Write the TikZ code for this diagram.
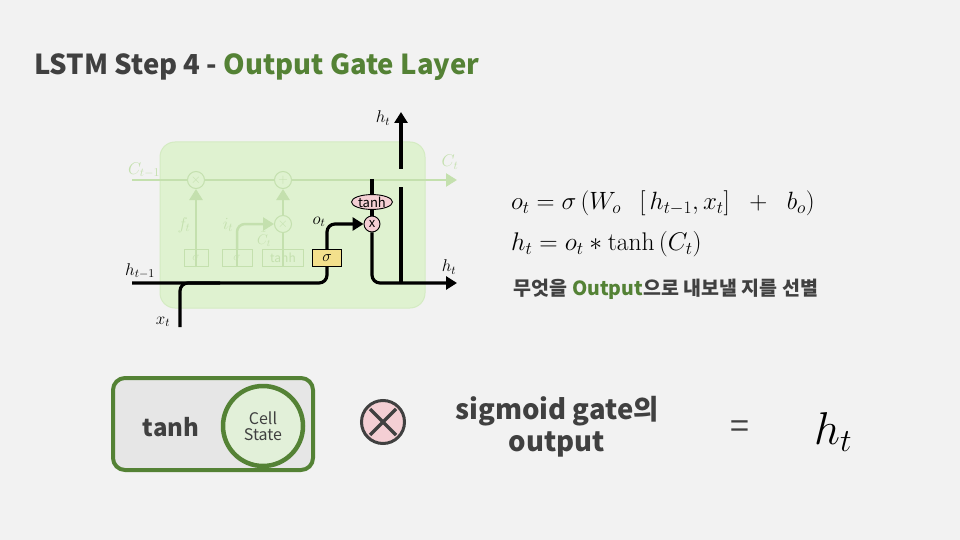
\RequirePackage{fix-cm}
\documentclass[tikz,border=0pt]{standalone}
\usepackage{fontspec}
\usepackage{amsmath}
\newfontfamily\krfont{Noto Sans CJK KR}
\usetikzlibrary{arrows.meta,shapes.geometric,positioning}
\definecolor{bggray}{HTML}{F2F2F2}
\definecolor{txtgray}{HTML}{404040}
\definecolor{ggreen}{HTML}{548235}
\definecolor{cellfill}{HTML}{DFF2D0}
\definecolor{fade}{HTML}{C4E0AE}
\definecolor{pinkfill}{HTML}{F4CFD4}
\definecolor{sigfill}{HTML}{F3E08C}
\definecolor{boxgray}{HTML}{E6E6E6}
\definecolor{csfill}{HTML}{E2F0D9}
\newcommand\fs[1]{\fontsize{#1}{#1}\selectfont}
\tikzset{
  fadeline/.style={draw=fade, line width=2.5pt},
  fadebox/.style={draw=fade, fill=cellfill, line width=1pt, minimum width=24pt,
    minimum height=17pt, inner sep=0pt, text=fade, font=\krfont\fs{12}},
  fadeop/.style={circle, draw=fade, line width=1pt, minimum size=17pt, inner sep=0pt,
    text=fade, font=\fs{13}},
  fadelabel/.style={text=fade, font=\fs{17}, inner sep=0pt},
  mathlabel/.style={font=\fs{17}, inner sep=0pt},
  blkline/.style={draw=black, line width=3.2pt, rounded corners=8pt},
  tip/.style={-{Triangle[length=11pt,width=13pt]}},
  pinkop/.style={draw=black, fill=pinkfill, line width=0.9pt, inner sep=0pt,
    font=\krfont\fs{13}},
}
\begin{document}
\begin{tikzpicture}[x=1pt, y=-1pt]
\fill[bggray] (0,0) rectangle (960,540);
\useasboundingbox (0,0) rectangle (960,540);

% title
\node[anchor=west, inner sep=0pt, text=txtgray, font=\krfont\bfseries\fs{27.5}] (title) at (34,67)
  {LSTM Step 4 - \textcolor{ggreen}{Output Gate Layer}};

% LSTM cell
\draw[fill=cellfill, draw=fade!40!cellfill, line width=1pt, rounded corners=15pt] (160,142) rectangle (425,308);

% faded part
\coordinate (cin) at (132,180);
\coordinate (cout) at (457,180);
\node[fadeop] (fmul) at (196,180) {$\times$};
\node[fadeop] (fadd) at (283,180) {$+$};
\node[fadeop] (imul) at (283,224) {$\times$};
\node[fadebox] (fsig) at (196,258) {$\sigma$};
\node[fadebox, minimum width=30pt] (isig) at (237,258) {$\sigma$};
\node[fadebox, minimum width=41pt] (ctanh) at (283,258) {tanh};
\draw[fadeline] (cin) -- (fmul) -- (fadd);
\draw[fadeline, tip] (fadd) -- (cout);
\draw[fadeline, tip] (fsig.north) -- (fmul.south);
\draw[fadeline, tip, rounded corners=8pt] (isig.north) |- (imul.west);
\draw[fadeline] (ctanh.north) -- (imul.south);
\draw[fadeline, tip] (imul.north) -- (fadd.south);
\foreach \b in {fsig,isig,ctanh}
  \draw[fadeline] (\b.south) -- ++(0,-17);
\node[fadelabel] (clab) at (144,170) {$C_{t-1}$};
\node[fadelabel] (ctlab) at (450,162) {$C_t$};
\node[fadelabel] (flab) at (184,225) {$f_t$};
\node[fadelabel] (ilab) at (228,225) {$i_t$};
\node[fadelabel, font=\fs{14}] (cclab) at (264,239) {$\tilde{C}_t$};

% output gate
\node[draw=black, fill=sigfill, line width=1.2pt, minimum width=29pt, minimum height=17pt,
  inner sep=0pt, font=\fs{16}] (osig) at (327,258) {$\sigma$};
\node[pinkop, circle, minimum size=16pt] (omul) at (372,224) {x};
\node[pinkop, ellipse, minimum width=41pt, minimum height=14pt] (otanh) at (372,202) {tanh};
\coordinate (hin) at (132,283);
\coordinate (xin) at (180,327);
\coordinate (hout) at (457,283);
\coordinate (cdown) at (372,179);
\coordinate (hup) at (401,112);

\draw[blkline] (hin) -| (osig.south);
\draw[blkline] (xin) |- (220,283);
\draw[blkline, tip] (osig.north) |- (omul.west);
\draw[blkline] (cdown) -- (otanh.north);
\draw[line width=3.2pt] (otanh.south) -- (omul.north);
\draw[blkline, tip] (omul.south) |- (hout);
\draw[line width=3.2pt] (401,283) -- (401,187);
\draw[line width=3.2pt, tip] (401,169) -- (hup);

\node[mathlabel] (hprev) at (140,271) {$h_{t-1}$};
\node[mathlabel] (xlab) at (163,322) {$x_t$};
\node[mathlabel] (olab) at (319,222) {$o_t$};
\node[mathlabel] (htop) at (383,118) {$h_t$};
\node[mathlabel] (hright) at (449,267) {$h_t$};

% equations
\node[anchor=west, inner sep=0pt, font=\fs{25}] (eqo) at (511,203)
  {$o_t = \sigma\left(W_o\;\;\left[\,h_{t-1}, x_t\right]\;\;+\;\;b_o\right)$};
\node[anchor=west, inner sep=0pt, font=\fs{25.5}] (eqh) at (511,244)
  {$h_t = o_t * \tanh\left(C_t\right)$};
\node[inner sep=0pt, text=txtgray, font=\krfont\bfseries\fs{19.5}] (sel) at (666,289)
  {무엇을 \textcolor{ggreen}{Output}으로 내보낼 지를 선별};

% bottom row
\node[draw=ggreen, line width=4pt, fill=boxgray, rounded corners=12pt,
  minimum width=200pt, minimum height=92pt] (tbox) at (213,424) {};
\node[text=txtgray, font=\krfont\bfseries\fs{24}] (tanhtxt) at (171,427) {tanh};
\node[circle, draw=ggreen, line width=4.5pt, fill=csfill, minimum size=80pt, inner sep=0pt,
  align=center, text=txtgray, font=\krfont\fs{16}] (cell) at (263,426) {Cell\\State};
\node[circle, draw=txtgray, line width=3pt, fill=pinkfill, minimum size=43pt] (mul) at (383,422) {};
\draw[line width=3.5pt, txtgray] (370,409) -- (396,435) (370,435) -- (396,409);
\node[align=center, text=txtgray, font=\krfont\bfseries\fontsize{27.5}{32}\selectfont] (sgout) at (557,427)
  {sigmoid gate의\\output};
\node[text=txtgray, font=\krfont\fs{34}] (eqsign) at (740,430) {=};
\node[font=\fs{46}] (hres) at (833,432) {$h_t$};
\end{tikzpicture}
\end{document}
